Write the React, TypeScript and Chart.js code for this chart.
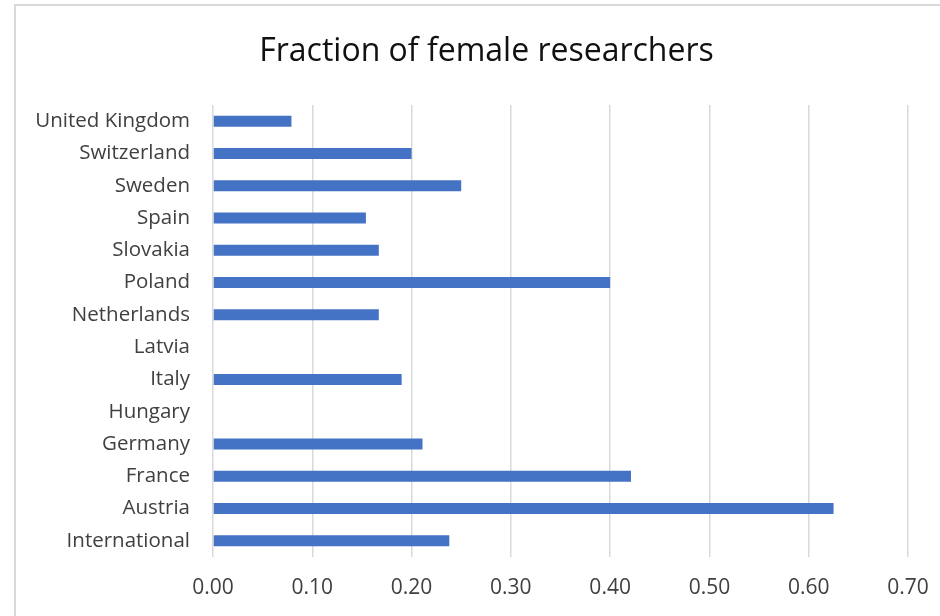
import React, { useEffect, useRef } from "react";
import { Chart, registerables } from "chart.js";

Chart.register(...registerables);

const TITLE = "Fraction of female researchers";
const countries = [
  "United Kingdom",
  "Switzerland",
  "Sweden",
  "Spain",
  "Slovakia",
  "Poland",
  "Netherlands",
  "Latvia",
  "Italy",
  "Hungary",
  "Germany",
  "France",
  "Austria",
  "International",
];
const fractions = [0.079, 0.2, 0.25, 0.154, 0.167, 0.4, 0.167, 0, 0.19, 0, 0.211, 0.421, 0.625, 0.238];
const xMin = 0;
const xMax = 0.7;
const xStep = 0.1;

const FONT = "'Open Sans', 'DejaVu Sans', sans-serif";

const titlePlugin = {
  id: "centeredTitle",
  afterDraw(chart: any) {
    const ctx = chart.ctx;
    ctx.save();
    ctx.font = `normal 32px ${FONT}`;
    ctx.fillStyle = "#111111";
    ctx.textAlign = "center";
    ctx.textBaseline = "middle";
    ctx.fillText(TITLE, 486.5, 52);
    ctx.restore();
  },
};

export default function App() {
  const ref = useRef<HTMLCanvasElement | null>(null);

  useEffect(() => {
    if (!ref.current) return;
    const chart = new Chart(ref.current, {
      type: "bar",
      data: {
        labels: countries,
        datasets: [
          {
            data: fractions,
            backgroundColor: "#4472c4",
            borderWidth: 0,
            barPercentage: 0.34,
            categoryPercentage: 1,
          },
        ],
      },
      plugins: [titlePlugin],
      options: {
        indexAxis: "y",
        animation: false,
        responsive: false,
        maintainAspectRatio: false,
        layout: { padding: { left: 0, right: 32, top: 105, bottom: 0 } },
        plugins: {
          legend: { display: false },
          tooltip: { enabled: false },
          title: { display: false },
        },
        scales: {
          x: {
            type: "linear",
            min: xMin,
            max: xMax,
            ticks: {
              stepSize: xStep,
              color: "#404040",
              padding: 18,
              font: { family: FONT, size: 21 },
              callback: (v: any) => Number(v).toFixed(2),
            },
            grid: { color: "#d9d9d9", lineWidth: 1.5, drawTicks: false },
            border: { display: false },
            afterFit: (s: any) => {
              s.height = 59;
              s.paddingLeft = 0;
              s.paddingRight = 0;
            },
          },
          y: {
            ticks: {
              color: "#404040",
              padding: 23,
              font: { family: FONT, size: 20.5 },
            },
            grid: { display: false, drawTicks: false },
            border: { display: false },
            afterFit: (s: any) => {
              s.width = 213;
              s.paddingTop = 0;
              s.paddingBottom = 0;
            },
          },
        },
      },
    });
    return () => chart.destroy();
  }, []);

  return (
    <div style={{ position: "fixed", left: 0, top: 0, width: 940, height: 616, overflow: "hidden", background: "#fff" }}>
      <div
        style={{
          position: "absolute",
          left: 14,
          top: 4,
          width: 2000,
          height: 2000,
          borderLeft: "2px solid #d9d9d9",
          borderTop: "2px solid #d9d9d9",
        }}
      />
      <canvas ref={ref} width={940} height={616} style={{ position: "absolute", left: 0, top: 0 }} />
    </div>
  );
}
